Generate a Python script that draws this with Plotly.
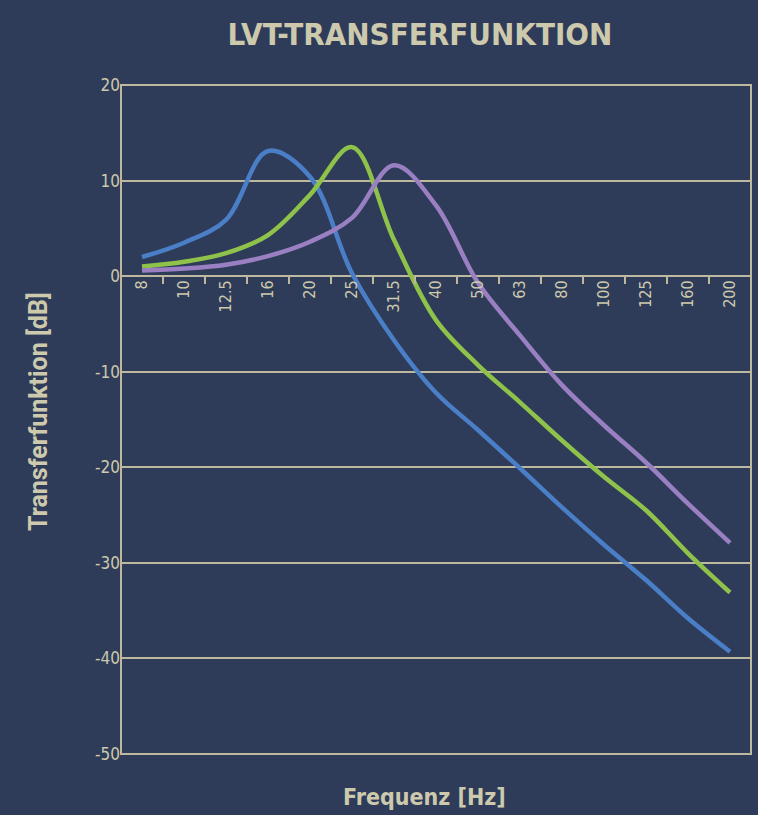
import plotly.graph_objects as go

freq_labels = ["8", "10", "12.5", "16", "20", "25", "31.5", "40", "50", "63", "80", "100", "125", "160", "200"]
blue_vals = [2.0, 3.5, 5.9, 13.1, 10.4, 0.3, -6.7, -12.2, -16.1, -20.1, -24.2, -28.1, -31.8, -35.8, -39.3]
green_vals = [1.0, 1.5, 2.4, 4.3, 8.5, 13.5, 3.8, -4.6, -9.3, -13.2, -17.2, -21.0, -24.5, -29.0, -33.1]
purple_vals = [0.6, 0.8, 1.2, 2.1, 3.6, 6.1, 11.6, 7.4, -0.7, -6.2, -11.4, -15.6, -19.5, -23.8, -27.9]
y_tick_vals = [20, 10, 0, -10, -20, -30, -40, -50]
y_tick_text = ["20", "10", "0", "-10", "-20", "-30", "-40", "-50"]

BG = "#2e3c59"
FG = "#cdc9ad"
GRID = "#bdb99e"
NARROW = "Noto Sans ExtraCondensed, Noto Sans Condensed, DejaVu Sans Condensed, sans-serif"

fig = go.Figure()
for vals, col in [(blue_vals, "#4a7fc8"), (green_vals, "#8fc24a"), (purple_vals, "#9a80c2")]:
    fig.add_trace(go.Scatter(
        x=freq_labels, y=vals, mode="lines",
        line=dict(color=col, width=4.5, shape="spline", smoothing=1.0),
        showlegend=False, hoverinfo="skip"))

fig.update_layout(
    width=758, height=815,
    paper_bgcolor=BG, plot_bgcolor=BG,
    margin=dict(l=121, r=7, t=85, b=61),
    title=dict(text="<b>LVT-TRANSFERFUNKTION</b>", x=(420-121)/630, xref="paper", xanchor="center",
               y=1 - 34/815, yref="container", yanchor="middle",
               font=dict(family=NARROW, size=31, color=FG)),
    xaxis=dict(
        type="category", range=[-0.5, 14.5],
        anchor="free", position=50/70,
        showgrid=False, zeroline=False, showline=False,
        ticks="outside", tickson="boundaries", ticklen=7, tickwidth=2, tickcolor=GRID,
        tickangle=-90, tickfont=dict(family=NARROW, size=16, color=FG),
    ),
    yaxis=dict(
        range=[-50, 20], tickmode="array", tickvals=y_tick_vals, ticktext=y_tick_text,
        showgrid=True, gridcolor=GRID, gridwidth=2,
        zeroline=False, showline=False, ticks="",
        tickfont=dict(family=NARROW, size=17, color=FG),
    ),
    shapes=[dict(type="rect", xref="paper", yref="paper", x0=0, x1=1, y0=0, y1=1,
                 line=dict(color=GRID, width=2), fillcolor="rgba(0,0,0,0)", layer="above")],
    annotations=[
        dict(text="<b>Frequenz [Hz]</b>", xref="paper", yref="paper",
             x=(424-121)/630, y=-(797-754)/669, xanchor="center", yanchor="middle",
             showarrow=False, font=dict(family=NARROW, size=23, color=FG)),
        dict(text="<b>Transferfunktion [dB]</b>", xref="paper", yref="paper",
             x=-(121-38)/630, y=(754-412)/669, xanchor="center", yanchor="middle",
             textangle=-90, showarrow=False, font=dict(family="Roboto, sans-serif", size=25, color=FG)),
    ],
)

fig.write_html("out.html", config={"displayModeBar": False},
               post_script="document.body.style.margin='0';document.body.style.background='%s';" % BG)
